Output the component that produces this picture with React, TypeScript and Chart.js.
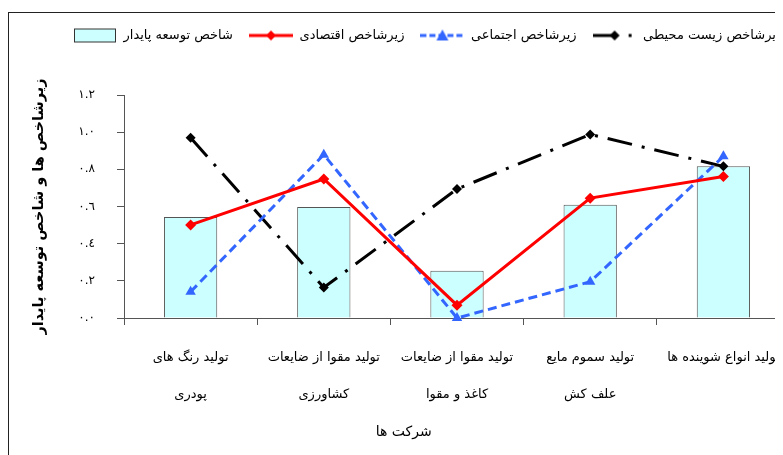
import { useEffect, useRef } from 'react';
import { Chart, registerables } from 'chart.js';

Chart.register(...registerables);

// ---------- data ----------
const categories: string[][] = [
  ['تولید رنگ های', 'پودری'],
  ['تولید مقوا از ضایعات', 'کشاورزی'],
  ['تولید مقوا از ضایعات', 'کاغذ و مقوا'],
  ['تولید سموم مایع', 'علف کش'],
  ['تولید انواع شوینده ها'],
];
const seriesNames = [
  'شاخص توسعه پایدار',
  'زیرشاخص اقتصادی',
  'زیرشاخص اجتماعی',
  'زیرشاخص زیست محیطی',
];
const sustainableIndex = [0.544, 0.597, 0.254, 0.609, 0.816];
const economicIndex = [0.501, 0.748, 0.069, 0.645, 0.762];
const socialIndex = [0.141, 0.879, 0.0, 0.195, 0.87];
const environmentalIndex = [0.97, 0.164, 0.694, 0.988, 0.816];
const yTickLabels = ['٠.٠', '٠.٢', '٠.٤', '٠.٦', '٠.٨', '١.٠', '١.٢'];
const yAxisTitle = 'زیرشاخص ها و شاخص توسعه پایدار';
const xAxisTitle = 'شرکت ها';

// ---------- styles ----------
const FONT = '"DejaVu Sans", sans-serif';
const AXIS = '#555555';
const BAR_FILL = '#CCFFFF';
const BAR_EDGE = '#555555';
const RED = '#FF0000';
const BLUE = '#3366FF';
const BLACK = '#000000';
const BLACK_DASH = [25, 10, 3, 10];
const BLUE_DASH = [9, 5];

function diamond(g: CanvasRenderingContext2D, x: number, y: number, r: number, color: string) {
  g.save();
  g.setLineDash([]);
  g.fillStyle = color;
  g.beginPath();
  g.moveTo(x, y - r);
  g.lineTo(x + r, y);
  g.lineTo(x, y + r);
  g.lineTo(x - r, y);
  g.closePath();
  g.fill();
  g.restore();
}

function makeSymbol(kind: number): HTMLCanvasElement {
  const c = document.createElement('canvas');
  c.width = 44;
  c.height = 16;
  const g = c.getContext('2d') as CanvasRenderingContext2D;
  const cy = 8;
  if (kind === 0) {
    g.fillStyle = BAR_FILL;
    g.fillRect(1.5, 1.5, 41, 13);
    g.strokeStyle = '#333333';
    g.lineWidth = 1;
    g.strokeRect(1.5, 1.5, 41, 13);
  } else if (kind === 1) {
    g.strokeStyle = RED;
    g.lineWidth = 3;
    g.beginPath();
    g.moveTo(0, cy);
    g.lineTo(44, cy);
    g.stroke();
    diamond(g, 22, cy, 5, RED);
  } else if (kind === 2) {
    g.strokeStyle = BLUE;
    g.lineWidth = 3;
    g.setLineDash([6, 3]);
    g.beginPath();
    g.moveTo(0, cy);
    g.lineTo(44, cy);
    g.stroke();
    g.setLineDash([]);
    g.fillStyle = BLUE;
    g.beginPath();
    g.moveTo(22, cy - 6);
    g.lineTo(28, cy + 5);
    g.lineTo(16, cy + 5);
    g.closePath();
    g.fill();
  } else {
    g.strokeStyle = BLACK;
    g.lineWidth = 3;
    g.setLineDash([20, 16, 3, 20]);
    g.beginPath();
    g.moveTo(0, cy);
    g.lineTo(44, cy);
    g.stroke();
    diamond(g, 22, cy, 5, BLACK);
  }
  return c;
}

// moves the legend block to a fixed spot above the plot
const legendPlacement = {
  id: 'legendPlacement',
  afterLayout(chart: any, _a: any, opts: any) {
    const l = chart.legend;
    if (!l) return;
    const h = l.bottom - l.top;
    l.left = opts.left;
    l.top = opts.top;
    l.bottom = opts.top + h;
    l.right = chart.width + 600;
  },
};

// category-axis title (placed left of centre as in the reference)
const xTitlePlugin = {
  id: 'xTitle',
  afterDraw(chart: any, _a: any, opts: any) {
    const s = chart.scales.x;
    const ctx = chart.ctx;
    ctx.save();
    ctx.font = `14px ${FONT}`;
    ctx.fillStyle = '#000';
    ctx.textAlign = 'center';
    ctx.textBaseline = 'middle';
    ctx.fillText(opts.text, s.left + (s.right - s.left) * opts.pos, s.top + opts.dy);
    ctx.restore();
  },
};

export default function App() {
  const ref = useRef<HTMLCanvasElement | null>(null);

  useEffect(() => {
    document.documentElement.style.overflow = 'hidden';
    document.body.style.overflow = 'hidden';
    if (!ref.current) return;
    const symbols = [0, 1, 2, 3].map(makeSymbol);
    const chart = new Chart(ref.current, {
      type: 'bar',
      data: {
        labels: categories,
        datasets: [
          {
            type: 'bar',
            label: seriesNames[0],
            data: sustainableIndex,
            backgroundColor: BAR_FILL,
            borderColor: BAR_EDGE,
            borderWidth: 1,
            barPercentage: 0.4,
            categoryPercentage: 1,
            order: 10,
          },
          {
            type: 'line',
            label: seriesNames[1],
            data: economicIndex,
            borderColor: RED,
            backgroundColor: RED,
            borderWidth: 3,
            pointStyle: 'rectRot',
            pointRadius: 5.5,
            pointBorderWidth: 0,
            pointBackgroundColor: RED,
            tension: 0,
            fill: false,
            clip: false,
            order: 0,
          },
          {
            type: 'line',
            label: seriesNames[2],
            data: socialIndex,
            borderColor: BLUE,
            backgroundColor: BLUE,
            borderWidth: 3,
            borderDash: BLUE_DASH,
            pointStyle: 'triangle',
            pointRadius: 6,
            pointBorderWidth: 0,
            pointBackgroundColor: BLUE,
            tension: 0,
            fill: false,
            clip: false,
            order: 1,
          },
          {
            type: 'line',
            label: seriesNames[3],
            data: environmentalIndex,
            borderColor: BLACK,
            backgroundColor: BLACK,
            borderWidth: 3,
            borderDash: BLACK_DASH,
            pointStyle: 'rectRot',
            pointRadius: 5,
            pointBorderWidth: 0,
            pointBackgroundColor: BLACK,
            tension: 0,
            fill: false,
            clip: false,
            order: 2,
          },
        ] as any,
      },
      options: {
        animation: false,
        responsive: true,
        maintainAspectRatio: false,
        events: [],
        layout: { padding: { top: 43, left: 0, right: 0, bottom: 0 } },
        scales: {
          x: {
            offset: true,
            grid: {
              display: true,
              drawOnChartArea: false,
              drawTicks: true,
              tickLength: 7,
              color: AXIS,
              offset: true,
            },
            border: { display: true, color: AXIS, width: 1 },
            ticks: {
              autoSkip: false,
              maxRotation: 0,
              minRotation: 0,
              padding: 14,
              color: '#000',
              font: { family: FONT, size: 13, lineHeight: '37px' },
            },
            afterFit: (s: any) => {
              s.height = 130;
            },
          },
          y: {
            min: 0,
            max: 1.2,
            ticks: {
              stepSize: 0.2,
              padding: 22,
              color: '#000',
              font: { family: FONT, size: 12 },
              callback: (_v: any, i: number) => yTickLabels[i],
            },
            grid: { drawOnChartArea: false, drawTicks: true, tickLength: 7, color: AXIS },
            border: { display: true, color: AXIS, width: 1 },
            title: {
              display: true,
              text: yAxisTitle,
              color: '#000',
              font: { family: FONT, size: 14.5, weight: 'bold' },
              padding: { top: 22, bottom: 0 },
            },
            afterFit: (s: any) => {
              s.width = 115;
            },
          },
          yRight: {
            type: 'linear',
            position: 'right',
            display: true,
            grid: { display: false, drawTicks: false },
            border: { display: false },
            ticks: { display: false },
            afterFit: (s: any) => {
              s.width = 90;
            },
          },
        } as any,
        plugins: {
          legend: {
            display: true,
            position: 'top',
            align: 'start',
            labels: {
              usePointStyle: true,
              pointStyleWidth: 44,
              padding: 16,
              color: '#000',
              font: { family: FONT, size: 13 },
              generateLabels: () =>
                seriesNames.map((name, i) => ({
                  text: name,
                  pointStyle: symbols[i],
                  fillStyle: 'rgba(0,0,0,0)',
                  strokeStyle: 'rgba(0,0,0,0)',
                  lineWidth: 0,
                  hidden: false,
                  datasetIndex: i,
                  fontColor: '#000',
                })),
            },
          },
          tooltip: { enabled: false },
          legendPlacement: { left: 48, top: 0 },
          xTitle: { text: xAxisTitle, pos: 0.42, dy: 114 },
        } as any,
      },
      plugins: [legendPlacement, xTitlePlugin],
    });
    return () => chart.destroy();
  }, []);

  return (
    <div style={{ position: 'relative', width: 775, height: 447, overflow: 'hidden' }}>
      <div
        style={{
          position: 'absolute',
          left: 0,
          top: 4,
          width: 1000,
          height: 1000,
          border: '1px solid #222',
          boxSizing: 'border-box',
        }}
      >
        <div style={{ position: 'absolute', left: 0, top: 0, width: 871, height: 435 }}>
          <canvas ref={ref} />
        </div>
      </div>
    </div>
  );
}
